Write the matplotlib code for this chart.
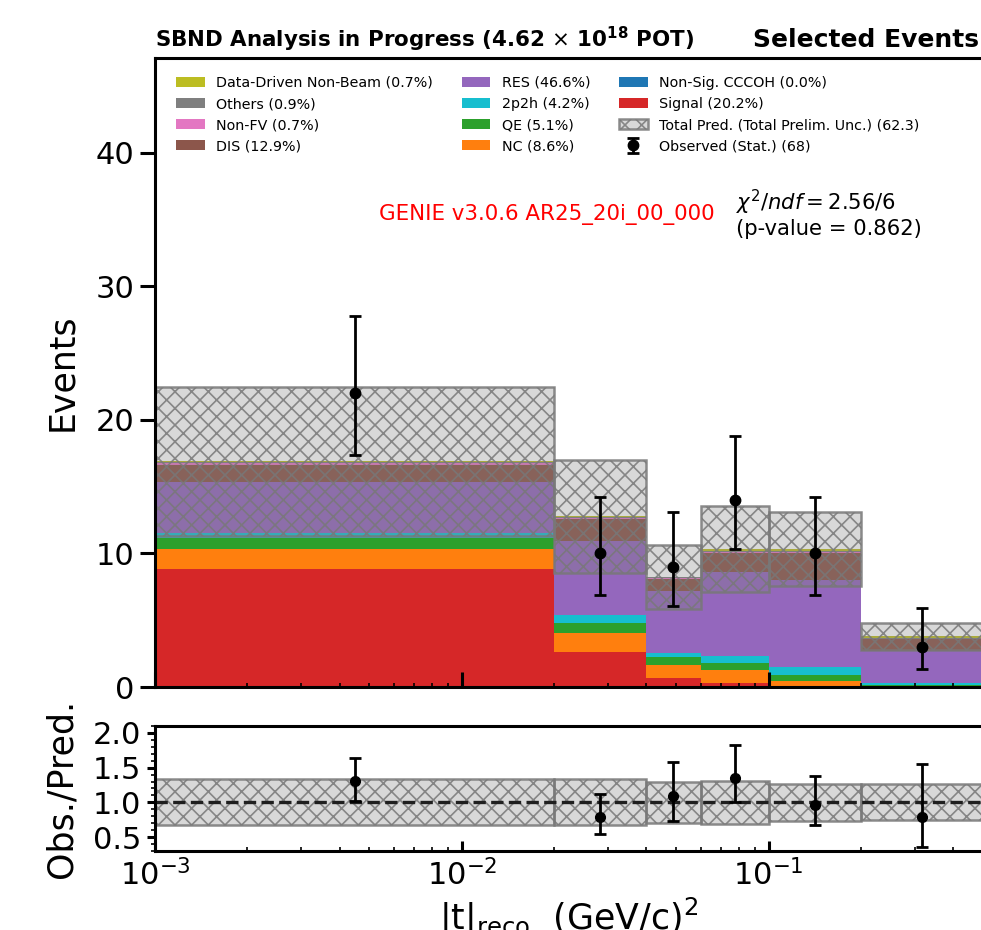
import numpy as np
import matplotlib
matplotlib.use("Agg")
import matplotlib.pyplot as plt
from matplotlib.ticker import MultipleLocator, FixedLocator

# ---------------- data ----------------
bin_edges = [0.001, 0.02, 0.04, 0.06, 0.1, 0.2, 0.5]

# stacked components (bottom -> top), events per bin
signal = [8.85, 2.60, 0.65, 0.30, 0.10, 0.05]
cccoh = [0.0, 0.0, 0.0, 0.0, 0.0, 0.0]
nc = [1.50, 1.45, 1.03, 0.95, 0.37, 0.05]
qe = [0.80, 0.75, 0.60, 0.55, 0.40, 0.06]
mec = [0.38, 0.60, 0.30, 0.55, 0.63, 0.15]
res = [3.85, 5.55, 4.60, 6.25, 6.50, 2.40]
dis = [1.25, 1.60, 0.90, 1.45, 2.05, 0.85]
nonfv = [0.15, 0.10, 0.05, 0.05, 0.05, 0.04]
others = [0.10, 0.10, 0.07, 0.10, 0.10, 0.09]
ddnb = [0.02, 0.03, 0.05, 0.12, 0.12, 0.10]

# fractional total uncertainty per bin
frac_unc = [0.33, 0.33, 0.29, 0.31, 0.27, 0.26]

observed = [22, 10, 9, 14, 10, 3]
obs_low = [17.35, 6.90, 6.06, 10.31, 6.90, 1.37]
obs_high = [27.76, 14.26, 13.10, 18.83, 14.26, 5.91]

labels = {
    "signal": "Signal (20.2%)",
    "cccoh": "Non-Sig. CCCOH (0.0%)",
    "nc": "NC (8.6%)",
    "qe": "QE (5.1%)",
    "mec": "2p2h (4.2%)",
    "res": "RES (46.6%)",
    "dis": "DIS (12.9%)",
    "nonfv": "Non-FV (0.7%)",
    "others": "Others (0.9%)",
    "ddnb": "Data-Driven Non-Beam (0.7%)",
}
band_label = "Total Pred. (Total Prelim. Unc.) (62.3)"
obs_label = "Observed (Stat.) (68)"

# ---------------- figure ----------------
plt.rcParams["font.family"] = ["DejaVu Sans"]
plt.rcParams["hatch.linewidth"] = 1.2

W, H = 981, 930
fig = plt.figure(figsize=(W / 100, H / 100), dpi=100)
x0, x1 = 155, 983
ax = fig.add_axes([x0 / W, 1 - 687 / H, (x1 - x0) / W, (687 - 58) / H])
rax = fig.add_axes([x0 / W, 1 - 851 / H, (x1 - x0) / W, (851 - 726) / H])

edges = np.array(bin_edges)
left = edges[:-1]
width = np.diff(edges)
centers = np.sqrt(edges[:-1] * edges[1:])

stack = [
    ("signal", signal, "#d62728"),
    ("cccoh", cccoh, "#1f77b4"),
    ("nc", nc, "#ff7f0e"),
    ("qe", qe, "#2ca02c"),
    ("mec", mec, "#17becf"),
    ("res", res, "#9467bd"),
    ("dis", dis, "#8c564b"),
    ("nonfv", nonfv, "#e377c2"),
    ("others", others, "#7f7f7f"),
    ("ddnb", ddnb, "#bcbd22"),
]

handles = {}
bottom = np.zeros(len(left))
for key, vals, col in stack:
    vals = np.array(vals, dtype=float)
    h = ax.bar(left, vals, width=width, bottom=bottom, align="edge",
               color=col, linewidth=0, label=labels[key])
    handles[key] = h
    bottom = bottom + vals
pred = bottom

frac = np.array(frac_unc)
lo = pred * (1 - frac)
hi = pred * (1 + frac)
band_fc = (0.5, 0.5, 0.5, 0.30)
band_ec = (0.47, 0.47, 0.47, 0.85)
hb = ax.bar(left, hi - lo, width=width, bottom=lo, align="edge",
            facecolor=band_fc, edgecolor=band_ec, hatch="xx", linewidth=1.8,
            label=band_label)

obs = np.array(observed, dtype=float)
yerr = [obs - np.array(obs_low), np.array(obs_high) - obs]
he = ax.errorbar(centers, obs, yerr=yerr, fmt="o", color="k", ms=7.5,
                 elinewidth=2.0, capsize=4.5, capthick=2.0, label=obs_label)

ax.set_xscale("log")
ax.set_xlim(1e-3, 0.5)
ax.set_ylim(0, 47.1)
ax.yaxis.set_major_locator(FixedLocator([0, 10, 20, 30, 40]))
ax.tick_params(axis="y", which="major", direction="out", length=11, width=2.2,
               labelsize=22, pad=4)
ax.tick_params(axis="y", which="minor", left=False)
ax.tick_params(axis="x", which="both", direction="in", bottom=True, top=False,
               labelbottom=False)
ax.tick_params(axis="x", which="major", length=11, width=2.2)
ax.tick_params(axis="x", which="minor", length=3, width=1.2)
for s in ax.spines.values():
    s.set_linewidth(2.2)
ax.set_ylabel("Events", fontsize=25)
ax.yaxis.set_label_coords(-0.092, 0.5)

order = ["ddnb", "others", "nonfv", "dis", "res", "mec", "qe", "nc", "cccoh", "signal"]
leg_handles = [handles[k] for k in order] + [hb, he]
leg_labels = [labels[k] for k in order] + [band_label, obs_label]
ax.legend(leg_handles, leg_labels, ncol=3, fontsize=10.3, frameon=False,
          loc="upper left", bbox_to_anchor=(0.010, 0.992))

ax.text(0.271, 0.7505, "GENIE v3.0.6 AR25_20i_00_000", color="red", fontsize=15.4,
        ha="left", va="center", transform=ax.transAxes)
ax.text(0.702, 0.770, r"$\chi^2/ndf = 2.56/6$", fontsize=15.2,
        ha="left", va="center", transform=ax.transAxes)
ax.text(0.702, 0.728, "(p-value = 0.862)", fontsize=15.2,
        ha="left", va="center", transform=ax.transAxes)

ax.set_title(r"SBND Analysis in Progress (4.62 $\times$ $\mathbf{10^{18}}$ POT)",
             loc="left", fontweight="bold", fontsize=15.4, pad=8)
ax.set_title("Selected Events", loc="right", fontweight="bold", fontsize=18,
             pad=8, x=(979 - x0) / (x1 - x0))

# ---------------- ratio ----------------
rax.bar(left, 2 * frac, width=width, bottom=1 - frac, align="edge",
        facecolor=band_fc, edgecolor=band_ec, hatch="xx", linewidth=1.8)
rax.axhline(1.0, ls="--", color="0.12", lw=2.4)
ratio = obs / pred
rerr = [yerr[0] / pred, yerr[1] / pred]
rax.errorbar(centers, ratio, yerr=rerr, fmt="o", color="k", ms=7.0,
             elinewidth=2.0, capsize=4.0, capthick=2.0)

rax.set_xscale("log")
rax.set_xlim(1e-3, 0.5)
rax.set_ylim(0.3, 2.1)
rax.yaxis.set_major_locator(FixedLocator([0.5, 1.0, 1.5, 2.0]))
rax.yaxis.set_minor_locator(MultipleLocator(0.1))
rax.tick_params(axis="y", which="major", direction="out", length=6, width=2.2,
                labelsize=22, pad=4)
rax.tick_params(axis="y", which="minor", direction="out", length=3, width=1.2)
rax.tick_params(axis="x", which="both", direction="in", bottom=True, top=False,
                labelsize=22)
rax.tick_params(axis="x", which="major", length=7, width=2.2, pad=6)
rax.tick_params(axis="x", which="minor", length=3, width=1.2)
for s in rax.spines.values():
    s.set_linewidth(2.2)
rax.set_ylabel("Obs./Pred.", fontsize=25)
rax.yaxis.set_label_coords(-0.092, 0.5)
rax.set_xlabel(r"$\mathrm{|t|_{reco}}$  (GeV/c)$^2$", fontsize=25)
rax.xaxis.set_label_coords(0.5, -0.36)

fig.savefig("out.png", dpi=100)
